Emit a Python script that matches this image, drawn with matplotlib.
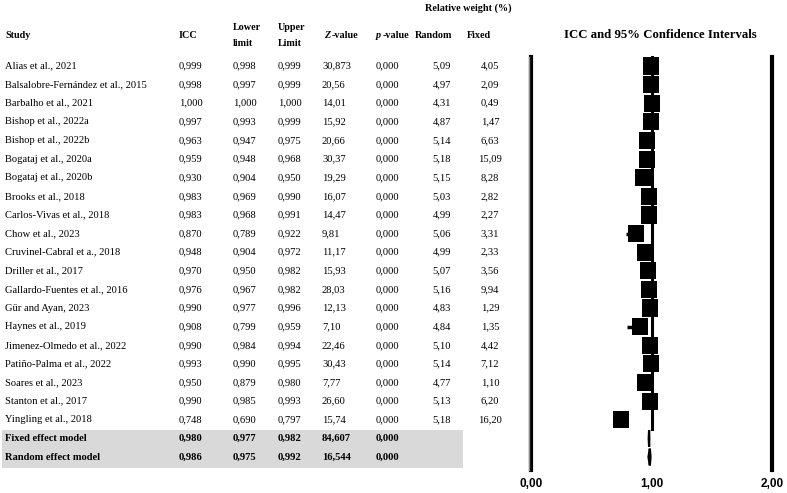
import matplotlib
matplotlib.use("Agg")
import matplotlib.pyplot as plt
from matplotlib.patches import Rectangle, Polygon

# ---------------- data ----------------
studies = [
    "Alias et al., 2021", "Balsalobre-Fernández et al., 2015", "Barbalho et al., 2021",
    "Bishop et al., 2022a", "Bishop et al., 2022b", "Bogataj et al., 2020a",
    "Bogataj et al., 2020b", "Brooks et al., 2018", "Carlos-Vivas et al., 2018",
    "Chow et al., 2023", "Cruvinel-Cabral et a., 2018", "Driller et al., 2017",
    "Gallardo-Fuentes et al., 2016", "Gür and Ayan, 2023", "Haynes et al., 2019",
    "Jimenez-Olmedo et al., 2022", "Patiño-Palma et al., 2022", "Soares et al., 2023",
    "Stanton et al., 2017", "Yingling et al., 2018",
]
icc = [0.999, 0.998, 1.000, 0.997, 0.963, 0.959, 0.930, 0.983, 0.983, 0.870,
       0.948, 0.970, 0.976, 0.990, 0.908, 0.990, 0.993, 0.950, 0.990, 0.748]
lower = [0.998, 0.997, 1.000, 0.993, 0.947, 0.948, 0.904, 0.969, 0.968, 0.789,
         0.904, 0.950, 0.967, 0.977, 0.799, 0.984, 0.990, 0.879, 0.985, 0.690]
upper = [0.999, 0.999, 1.000, 0.999, 0.975, 0.968, 0.950, 0.990, 0.991, 0.922,
         0.972, 0.982, 0.982, 0.996, 0.959, 0.994, 0.995, 0.980, 0.993, 0.797]
z_values = ["30,873", "20,56", "14,01", "15,92", "20,66", "30,37", "19,29", "16,07",
            "14,47", "9,81", "11,17", "15,93", "28,03", "12,13", "7,10", "22,46",
            "30,43", "7,77", "26,60", "15,74"]
p_values = ["0,000"] * 20
w_random = [5.09, 4.97, 4.31, 4.87, 5.14, 5.18, 5.15, 5.03, 4.99, 5.06,
            4.99, 5.07, 5.16, 4.83, 4.84, 5.10, 5.14, 4.77, 5.13, 5.18]
w_fixed = [4.05, 2.09, 0.49, 1.47, 6.63, 15.09, 8.28, 2.82, 2.27, 3.31,
           2.33, 3.56, 9.94, 1.29, 1.35, 4.42, 7.12, 1.10, 6.20, 16.20]

summary_labels = ["Fixed effect model", "Random effect model"]
summary_icc = [0.980, 0.986]
summary_lower = [0.977, 0.975]
summary_upper = [0.982, 0.992]
summary_z = ["84,607", "16,544"]
summary_p = ["0,000", "0,000"]

axis_ticks = [0, 1, 2]
axis_tick_labels = ["0,00", "1,00", "2,00"]

# ---------------- layout helpers ----------------
W, H = 787, 493
fig = plt.figure(figsize=(W / 100, H / 100), dpi=100)

def fx(px):
    return px / W

def fy(py):
    return 1 - py / H

SERIF = "Liberation Serif"
FS = 7.6
HFS = 7.3
ROW0, DY = 66.0, 18.62

def row_y(i):
    return ROW0 + DY * i

def fmt(v, d):
    return f"{v:.{d}f}".replace(".", ",")

def txt(x, y, s, ha="left", bold=False, italic=False, size=FS):
    return fig.text(fx(x), fy(y), s, ha=ha, va="center", fontsize=size,
                    family=SERIF, fontweight="bold" if bold else "normal",
                    fontstyle="italic" if italic else "normal")

# grey box behind summary rows
fig.add_artist(Rectangle((fx(2), fy(468)), fx(463) - fx(2), (468 - 430) / H,
                         transform=fig.transFigure, facecolor="#d9d9d9",
                         edgecolor="none", zorder=0))
# thin grey separator line
fig.add_artist(plt.Line2D([fx(529), fx(529)], [fy(57), fy(470)],
                          transform=fig.transFigure, color="#8c8c8c", lw=1))

COL_STUDY, COL_ICC, COL_LO, COL_UP, COL_Z, COL_P = 5, 179, 233, 278, 322, 376
COL_RAND_R, COL_FIX_C = 451, 490

# headers
HY = 35
txt(COL_STUDY, HY, "Study", bold=True, size=HFS)
txt(COL_ICC, HY, "ICC", bold=True, size=HFS)
txt(COL_LO, 27, "Lower", bold=True, size=HFS)
txt(COL_LO, 43, "limit", bold=True, size=HFS)
txt(COL_UP, 27, "Upper", bold=True, size=HFS)
txt(COL_UP, 43, "Limit", bold=True, size=HFS)
txt(COL_Z + 2, HY, "Z", bold=True, italic=True, size=HFS)
txt(COL_Z + 10, HY, "-value", bold=True, size=HFS)
txt(COL_P, HY, "p", bold=True, italic=True, size=HFS)
txt(COL_P + 7, HY, "-value", bold=True, size=HFS)
txt(COL_RAND_R + 1, HY, "Random", bold=True, ha="right", size=HFS)
txt(467, HY, "Fixed", bold=True, size=HFS)
txt(468, 8, "Relative weight (%)", bold=True, ha="center", size=HFS)
txt(660, HY, "ICC and 95% Confidence Intervals", bold=True, ha="center", size=9.2)

# study rows
for i, name in enumerate(studies):
    y = row_y(i)
    txt(COL_STUDY, y, name)
    txt(COL_ICC, y, fmt(icc[i], 3))
    txt(COL_LO, y, fmt(lower[i], 3))
    txt(COL_UP, y, fmt(upper[i], 3))
    txt(COL_Z, y, z_values[i])
    txt(COL_P, y, p_values[i])
    txt(COL_RAND_R, y, fmt(w_random[i], 2), ha="right")
    txt(COL_FIX_C, y, fmt(w_fixed[i], 2), ha="center")

# summary rows
n = len(studies)
for k, name in enumerate(summary_labels):
    y = row_y(n + k)
    txt(COL_STUDY, y, name, bold=True)
    txt(COL_ICC, y, fmt(summary_icc[k], 3), bold=True)
    txt(COL_LO, y, fmt(summary_lower[k], 3), bold=True)
    txt(COL_UP, y, fmt(summary_upper[k], 3), bold=True)
    txt(COL_Z, y, summary_z[k], bold=True)
    txt(COL_P, y, summary_p[k], bold=True)

# ---------------- forest plot ----------------
ax = fig.add_axes([fx(531), fy(470), fx(772) - fx(531), (470 - 57) / H])
ax.set_xlim(0, 2)
y_bot = (470 - ROW0) / DY
y_top = (57 - ROW0) / DY
ax.set_ylim(y_bot, y_top)
for s in ax.spines.values():
    s.set_visible(False)
ax.set_yticks([])
ax.set_xticks(axis_ticks, axis_tick_labels)
ax.tick_params(axis="x", length=0, pad=6)
for lab in ax.get_xticklabels():
    lab.set_fontfamily("Liberation Sans")
    lab.set_fontweight("bold")
    lab.set_fontsize(8.5)

ax.axvline(0, color="black", lw=3, clip_on=False)
ax.axvline(2, color="black", lw=3, clip_on=False)
ax.plot([1, 1], [y_top, n - 0.5], color="black", lw=2.2, clip_on=False, zorder=2)

hw = 8.0 / 120.5
hh = 0.46
for i in range(n):
    ax.hlines(i, lower[i], upper[i], color="black", lw=2.5, zorder=3)
    ax.add_patch(Rectangle((icc[i] - hw, i - hh), 2 * hw, 2 * hh,
                           facecolor="black", edgecolor="none", zorder=4))

for k in range(len(summary_labels)):
    i = n + k
    ax.add_patch(Polygon([(summary_lower[k], i), (summary_icc[k], i - 0.45),
                          (summary_upper[k], i), (summary_icc[k], i + 0.45)],
                         closed=True, facecolor="black", edgecolor="black",
                         lw=1.6, zorder=4))

fig.savefig("out.png", dpi=100)
